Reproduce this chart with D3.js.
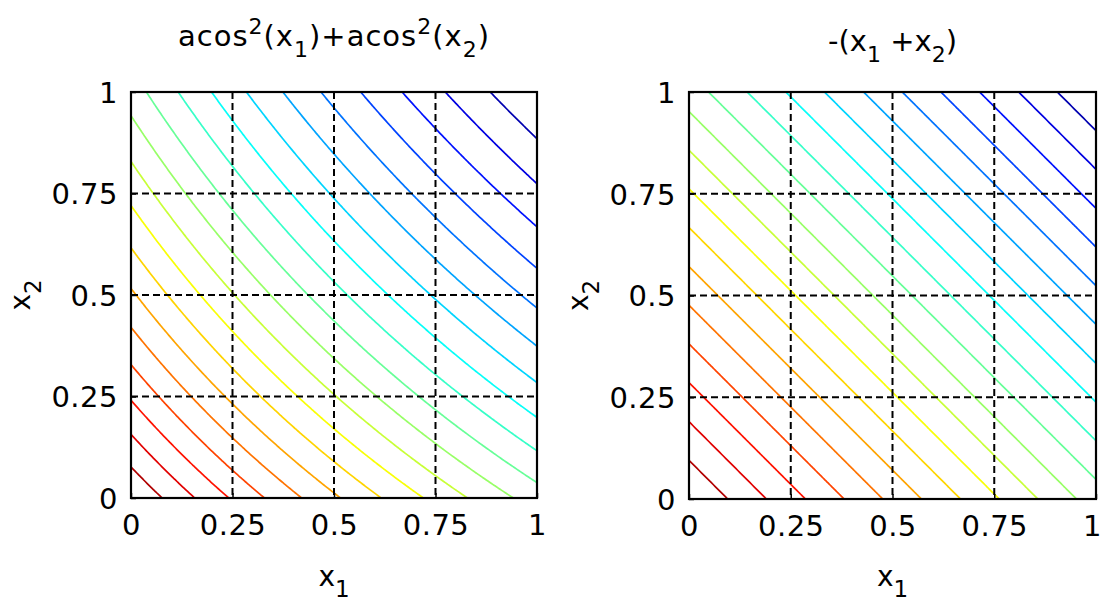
<!DOCTYPE html>
<html><head><meta charset="utf-8">
<script src="https://cdn.jsdelivr.net/npm/d3@7"></script>
<style>body{margin:0;background:#fff}svg{display:block}text{font-family:"DejaVu Sans",sans-serif;fill:#000}</style>
</head><body>
<svg id="c" width="1101" height="602"></svg>
<script>
// Contour levels (20 levels each)
const leftLevels = [0.235,0.470,0.705,0.940,1.175,1.410,1.645,1.880,2.115,2.350,2.585,2.820,3.055,3.290,3.525,3.760,3.995,4.230,4.465,4.700];
const rightLevels = [-1.905,-1.810,-1.714,-1.619,-1.524,-1.429,-1.333,-1.238,-1.143,-1.048,-0.952,-0.857,-0.762,-0.667,-0.571,-0.476,-0.381,-0.286,-0.190,-0.095];
const leftCLim = [0, 4.935];
const rightCLim = [-2, 0];
const tickValues = [0, 0.25, 0.5, 0.75, 1];
const tickLabels = ["0", "0.25", "0.5", "0.75", "1"];
const gridValues = [0.25, 0.5, 0.75];
// title pieces: [text, shift] shift: 0 normal, 1 superscript, -1 subscript
const leftTitle = [["acos",0],["2",1],["(x",0],["1",-1],[")+acos",0],["2",1],["(x",0],["2",-1],[")",0]];
const rightTitle = [["-(x",0],["1",-1],[" +x",0],["2",-1],[")",0]];

const svg = d3.select("#c");
const N = 201;

function jet(t){
  const c = v => Math.max(0, Math.min(1, v));
  const r = c(1.5 - Math.abs(4*t - 3)), g = c(1.5 - Math.abs(4*t - 2)), b = c(1.5 - Math.abs(4*t - 1));
  return d3.rgb(r*255, g*255, b*255).toString();
}

function rich(t, pieces, size, small){
  let cur = 0;
  pieces.forEach(([s, sh]) => {
    const target = sh === 1 ? -12 : sh === -1 ? 11 : 0;
    t.append("tspan").attr("dy", target - cur).style("font-size", (sh ? small : size) + "px").text(s);
    cur = target;
  });
}

function panel(opt){
  const {left, top, size, fn, levels, clim, id} = opt;
  const x = d3.scaleLinear().domain([0,1]).range([left, left+size]);
  const y = d3.scaleLinear().domain([0,1]).range([top+size, top]);
  const vals = new Array(N*N);
  for (let j=0;j<N;j++) for (let i=0;i<N;i++) vals[j*N+i] = fn(i/(N-1), j/(N-1));
  const g = svg.append("g");
  g.append("clipPath").attr("id", id).append("rect")
    .attr("x", left).attr("y", top).attr("width", size).attr("height", size);
  const proj = d3.geoTransform({point(px, py){ this.stream.point(x((px-0.5)/(N-1)), y((py-0.5)/(N-1))); }});
  const path = d3.geoPath(proj);
  const cont = d3.contours().size([N,N]).thresholds(levels)(vals);
  const cs = d3.scaleLinear().domain(clim).range([0,1]);
  g.append("g").attr("clip-path", `url(#${id})`)
    .selectAll("path").data(cont).join("path")
    .attr("d", path).attr("fill", "none")
    .attr("stroke", d => jet(cs(d.value))).attr("stroke-width", 1.7);
  // dashed grid
  const gg = g.append("g").attr("stroke", "#000").attr("stroke-width", 2).attr("stroke-dasharray", "7,4");
  gg.selectAll("line.v").data(gridValues).join("line")
    .attr("x1", d => x(d)).attr("x2", d => x(d)).attr("y1", top).attr("y2", top+size);
  gg.selectAll("line.h").data(gridValues).join("line")
    .attr("y1", d => y(d)).attr("y2", d => y(d)).attr("x1", left).attr("x2", left+size);
  // axes
  const ax = d3.axisBottom(x).tickValues(tickValues).tickFormat((d,i)=>tickLabels[i]).tickSizeInner(-5).tickSizeOuter(0).tickPadding(14);
  const ay = d3.axisLeft(y).tickValues(tickValues).tickFormat((d,i)=>tickLabels[i]).tickSizeInner(-5).tickSizeOuter(0).tickPadding(13);
  const gx = g.append("g").attr("transform", `translate(0,${top+size})`).call(ax);
  const gy = g.append("g").attr("transform", `translate(${left},0)`).call(ay);
  [gx, gy].forEach(a => {
    a.select(".domain").remove();
    a.selectAll("line").attr("stroke", "#000").attr("stroke-width", 1.5);
    a.selectAll("text").style("font-family", '"DejaVu Sans", sans-serif').style("font-size", "29px").style("letter-spacing", "0.5px").attr("fill", "#000");
  });
  gx.selectAll("text").attr("dy", "0.78em");
  gy.selectAll("text").attr("dy", "0.36em");
  if (opt.lastShift) gx.selectAll("text").filter(d => d === 1).attr("dx", opt.lastShift);
  // frame
  g.append("rect").attr("x", left).attr("y", top).attr("width", size).attr("height", size)
    .attr("fill", "none").attr("stroke", "#000").attr("stroke-width", 2.2);
  // axis labels
  const xl = g.append("text").attr("x", left+size/2).attr("y", 586).attr("text-anchor", "middle");
  rich(xl, [["x",0],["1",-1]], 28, 23);
  const yl = g.append("text").attr("transform", `translate(${left-101},${top+size/2}) rotate(-90)`).attr("text-anchor", "middle");
  rich(yl, [["x",0],["2",-1]], 28, 23);
  // title
  const t = g.append("text").attr("x", left+size/2).attr("y", opt.titleY).attr("text-anchor", "middle")
    .style("letter-spacing", opt.titleSpacing + "px");
  rich(t, opt.title, 29, 22);
}

panel({id:"cl", left:131, top:92, size:406, titleY:46, titleSpacing:1,
  fn:(a,b)=>Math.acos(a)**2 + Math.acos(b)**2, levels:leftLevels, clim:leftCLim, title:leftTitle});
panel({id:"cr", left:689, top:92, size:407, titleY:51, titleSpacing:0, lastShift:-4,
  fn:(a,b)=>-(a+b), levels:rightLevels, clim:rightCLim, title:rightTitle});
</script>
</body></html>
